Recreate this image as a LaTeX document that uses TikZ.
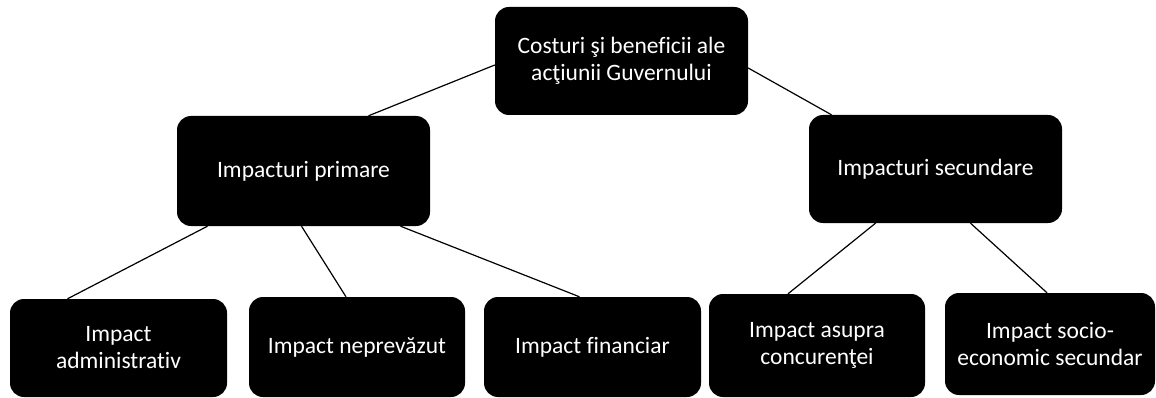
\documentclass[tikz,border=0pt]{standalone}
\usepackage{fontspec}
\setmainfont{Carlito}[Ligatures={NoCommon}]
\usepackage{tikz}

\begin{document}
\begin{tikzpicture}[x=1pt,y=1pt]
\tikzstyle{every node}+=[inner sep=0pt]
\tikzstyle{box}=[fill=black, text=white, rounded corners=14pt, align=center, font=\fontsize{23.5}{27}\selectfont]
\tikzstyle{link}=[black, line width=1.2pt]
\useasboundingbox (0,0) rectangle (1156,-398);
% top level
\node [box, minimum width=253pt, minimum height=108pt] (costuri) at (621.5,-61) {Costuri şi beneficii ale\\acţiunii Guvernului};
% second level
\node [box, minimum width=253pt, minimum height=110pt] (primare) at (303.5,-171) {Impacturi primare};
\node [box, minimum width=253pt, minimum height=108pt] (secundare) at (935.5,-169) {Impacturi secundare};
% third level
\node [box, minimum width=217pt, minimum height=98pt] (admin) at (118.5,-348) {Impact\\administrativ};
\node [box, minimum width=216pt, minimum height=100pt] (neprev) at (357,-347) {Impact neprevăzut};
\node [box, minimum width=217pt, minimum height=100pt] (financiar) at (592.5,-347) {Impact financiar};
\node [box, minimum width=216pt, minimum height=103pt] (asupra) at (817,-345.5) {Impact asupra\\concurenţei};
\node [box, minimum width=210pt, minimum height=102pt] (socio) at (1050,-344) {Impact socio-\\economic secundar};
% links
\draw [link] ([yshift=-4pt]costuri.west) -- ([xshift=65pt]primare.north);
\draw [link] ([yshift=-7pt]costuri.east) -- ([xshift=-104pt]secundare.north);
\draw [link] ([xshift=-96pt]primare.south) -- ([xshift=-51pt]admin.north);
\draw [link] ([xshift=-2pt]primare.south) -- ([xshift=-11pt]neprev.north);
\draw [link] ([xshift=97pt]primare.south) -- ([xshift=-13pt]financiar.north);
\draw [link] ([xshift=-60pt]secundare.south) -- ([xshift=-29pt]asupra.north);
\draw [link] ([xshift=35pt]secundare.south) -- ([xshift=-3pt]socio.north);
\end{tikzpicture}
\end{document}
